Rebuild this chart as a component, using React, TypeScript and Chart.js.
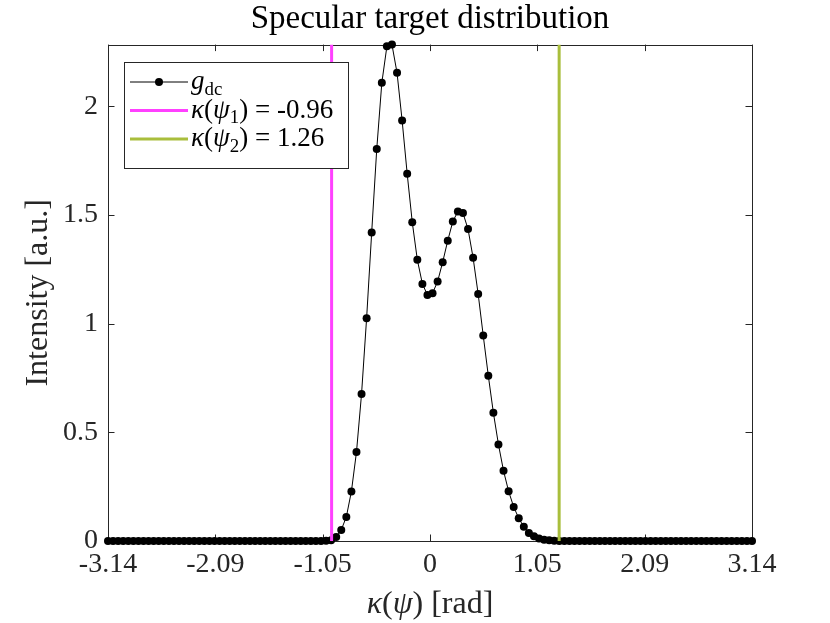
import { useEffect, useRef } from 'react'
import { Chart, registerables } from 'chart.js'

Chart.register(...registerables)

// sample grid: linspace(-pi, pi, 128)
const kappa = Array.from({ length: 128 }, (_, i) => -Math.PI + (i * 2 * Math.PI) / 127)

// g_dc intensity
const gdc = [
  0, 0, 0, 0, 0, 0, 0, 0, 0, 0, 0, 0, 0, 0, 0, 0, 0, 0, 0, 0,
  0, 0, 0, 0, 0, 0, 0, 0, 0, 0, 0, 0, 0, 0, 0, 0, 0, 0, 0, 0,
  0, 0, 0,
  0.001, 0.004, 0.018, 0.051, 0.111, 0.228, 0.409, 0.676, 1.025, 1.419,
  1.804, 2.108, 2.276, 2.284, 2.154, 1.935, 1.69, 1.467, 1.294, 1.183,
  1.132, 1.14, 1.194, 1.283, 1.382, 1.47, 1.516, 1.509, 1.435, 1.303,
  1.136, 0.945, 0.76, 0.59, 0.444, 0.323, 0.229, 0.157, 0.105, 0.065,
  0.037, 0.022, 0.012, 0.006, 0.003, 0.001,
  0, 0, 0, 0, 0, 0, 0, 0, 0, 0, 0, 0, 0, 0, 0, 0, 0, 0, 0, 0,
  0, 0, 0, 0, 0, 0, 0, 0, 0, 0, 0, 0, 0, 0, 0, 0, 0, 0, 0,
]

const psi1 = -0.96
const psi2 = 1.26

const xTickValues = [-Math.PI, (-2 * Math.PI) / 3, -Math.PI / 3, 0, Math.PI / 3, (2 * Math.PI) / 3, Math.PI]
const xTickLabels = ['-3.14', '-2.09', '-1.05', '0', '1.05', '2.09', '3.14']
const yTickValues = [0, 0.5, 1, 1.5, 2]
const yTickLabels = ['0', '0.5', '1', '1.5', '2']

const FONT = '"Liberation Serif", "DejaVu Serif", serif'
const AXIS = '#262626'
const MAGENTA = '#FF40FF'
const OLIVE = '#A9BE3C'

type Seg = { t: string; it?: boolean; sub?: boolean }

function drawRich(ctx: CanvasRenderingContext2D, segs: Seg[], x: number, y: number, size: number, center = false) {
  const fontOf = (s: Seg) => `${s.it ? 'italic ' : ''}${s.sub ? size * 0.7 : size}px ${FONT}`
  let total = 0
  segs.forEach((s) => {
    ctx.font = fontOf(s)
    total += ctx.measureText(s.t).width
  })
  let cx = center ? x - total / 2 : x
  ctx.textBaseline = 'alphabetic'
  ctx.textAlign = 'left'
  segs.forEach((s) => {
    ctx.font = fontOf(s)
    ctx.fillText(s.t, cx, s.sub ? y + size * 0.22 : y)
    cx += ctx.measureText(s.t).width
  })
}

const legendRows: { segs: Seg[]; color: string; marker: boolean; width: number }[] = [
  { segs: [{ t: 'g', it: true }, { t: 'dc', sub: true }], color: '#000', marker: true, width: 1 },
  {
    segs: [{ t: 'κ', it: true }, { t: '(' }, { t: 'ψ', it: true }, { t: '1', sub: true }, { t: ') = -0.96' }],
    color: MAGENTA,
    marker: false,
    width: 3,
  },
  {
    segs: [{ t: 'κ', it: true }, { t: '(' }, { t: 'ψ', it: true }, { t: '2', sub: true }, { t: ') = 1.26' }],
    color: OLIVE,
    marker: false,
    width: 3,
  },
]

const axesBox = {
  id: 'axesBox',
  beforeDatasetsDraw(chart: any) {
    const { ctx, chartArea, scales } = chart
    const { left, right, top, bottom } = chartArea
    const tl = 6.5
    ctx.save()
    ctx.strokeStyle = AXIS
    ctx.lineWidth = 1
    ctx.beginPath()
    xTickValues.forEach((v) => {
      const px = Math.round(scales.x.getPixelForValue(v)) + 0.5
      ctx.moveTo(px, bottom)
      ctx.lineTo(px, bottom - tl)
      ctx.moveTo(px, top)
      ctx.lineTo(px, top + tl)
    })
    yTickValues.forEach((v) => {
      const py = Math.round(scales.y.getPixelForValue(v)) + 0.5
      ctx.moveTo(left, py)
      ctx.lineTo(left + tl, py)
      ctx.moveTo(right, py)
      ctx.lineTo(right - tl, py)
    })
    ctx.stroke()
    ctx.strokeRect(Math.round(left) + 0.5, Math.round(top) + 0.5, Math.round(right - left), Math.round(bottom - top))
    ctx.restore()
  },
  afterDraw(chart: any) {
    const { ctx, chartArea } = chart
    ctx.save()
    ctx.fillStyle = AXIS
    drawRich(ctx, [{ t: 'κ', it: true }, { t: '(' }, { t: 'ψ', it: true }, { t: ') [rad]' }], (chartArea.left + chartArea.right) / 2, 613, 32, true)

    // legend
    const bx = 124
    const by = 62
    const bw = 224
    const bh = 106
    ctx.fillStyle = '#fff'
    ctx.fillRect(bx, by, bw, bh)
    ctx.strokeStyle = AXIS
    ctx.lineWidth = 1
    ctx.strokeRect(bx + 0.5, by + 0.5, bw, bh)
    legendRows.forEach((row, i) => {
      const base = 89 + i * 28.5
      const ly = base - 7
      ctx.strokeStyle = row.color
      ctx.lineWidth = row.width
      ctx.beginPath()
      ctx.moveTo(130, ly)
      ctx.lineTo(188, ly)
      ctx.stroke()
      if (row.marker) {
        ctx.fillStyle = '#000'
        ctx.beginPath()
        ctx.arc(159, ly, 4, 0, Math.PI * 2)
        ctx.fill()
      }
      ctx.fillStyle = '#000'
      drawRich(ctx, row.segs, 191, base, 27)
    })
    ctx.restore()
  },
}

export default function App() {
  const chartRef = useRef<HTMLCanvasElement>(null)
  const chartInstance = useRef<Chart | null>(null)

  useEffect(() => {
    if (chartInstance.current) chartInstance.current.destroy()
    const yMax = Math.max(...gdc)

    chartInstance.current = new Chart(chartRef.current as HTMLCanvasElement, {
      type: 'scatter',
      data: {
        datasets: [
          {
            data: [
              { x: psi1, y: 0 },
              { x: psi1, y: yMax },
            ],
            showLine: true,
            borderColor: MAGENTA,
            borderWidth: 3,
            pointRadius: 0,
            order: 0,
          },
          {
            data: [
              { x: psi2, y: 0 },
              { x: psi2, y: yMax },
            ],
            showLine: true,
            borderColor: OLIVE,
            borderWidth: 3,
            pointRadius: 0,
            order: 0,
          },
          {
            data: kappa.map((x, i) => ({ x, y: gdc[i] })),
            showLine: true,
            borderColor: '#000',
            borderWidth: 1,
            pointRadius: 4,
            pointBackgroundColor: '#000',
            pointBorderWidth: 0,
            clip: false as any,
            order: 1,
          },
        ],
      },
      options: {
        animation: false,
        responsive: true,
        maintainAspectRatio: false,
        events: [],
        layout: { padding: { left: 0, top: 0, right: 78, bottom: 0 } },
        plugins: {
          legend: { display: false },
          tooltip: { enabled: false },
          title: {
            display: true,
            fullSize: false,
            text: 'Specular target distribution',
            color: '#000',
            font: { family: FONT, size: 33, weight: 'normal' },
            padding: { top: 0, bottom: 5 },
          },
        },
        scales: {
          x: {
            type: 'linear',
            min: -Math.PI,
            max: Math.PI,
            afterBuildTicks: (scale: any) => {
              scale.ticks = xTickValues.map((value) => ({ value }))
            },
            afterFit: (scale: any) => {
              scale.height = 82
            },
            grid: { display: false, drawTicks: false },
            border: { display: false },
            ticks: {
              autoSkip: false,
              maxRotation: 0,
              padding: 7,
              color: AXIS,
              font: { family: FONT, size: 28 },
              callback: (_v: any, index: number) => xTickLabels[index],
            },
          },
          y: {
            type: 'linear',
            min: 0,
            max: yMax,
            afterBuildTicks: (scale: any) => {
              scale.ticks = yTickValues.map((value) => ({ value }))
            },
            afterFit: (scale: any) => {
              scale.width = 108
            },
            grid: { display: false, drawTicks: false },
            border: { display: false },
            ticks: {
              padding: 10,
              color: AXIS,
              font: { family: FONT, size: 28 },
              callback: (_v: any, index: number) => yTickLabels[index],
            },
            title: {
              display: true,
              text: 'Intensity [a.u.]',
              color: AXIS,
              font: { family: FONT, size: 32 },
              padding: { top: 19 },
            },
          },
        },
      },
      plugins: [axesBox],
    })

    return () => {
      if (chartInstance.current) {
        chartInstance.current.destroy()
        chartInstance.current = null
      }
    }
  }, [])

  return (
    <div style={{ position: 'fixed', left: 0, top: 0, width: 830, height: 623, background: '#fff' }}>
      <canvas ref={chartRef} />
    </div>
  )
}
